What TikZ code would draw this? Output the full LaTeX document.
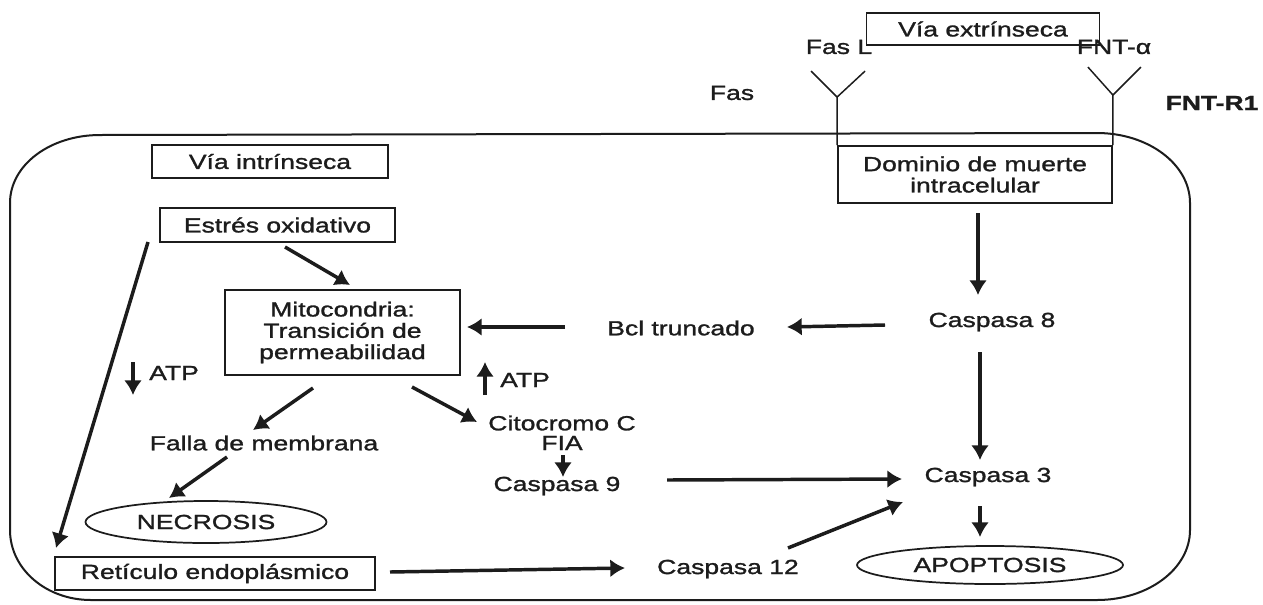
\documentclass[tikz,border=0pt]{standalone}
\usepackage{fontspec}
\setmainfont{Liberation Sans}[FakeStretch=1.3,FakeBold=1.3]
\usetikzlibrary{arrows.meta,calc,shapes.geometric}
\definecolor{ink}{HTML}{1C1C1C}
\tikzset{
  lbl/.style={inner sep=0pt, text=ink, font=\fontsize{15.3}{16}\selectfont, align=center},
  boxn/.style={lbl, draw=ink, line width=1.4pt},
  ell/.style={lbl, draw=ink, line width=1.3pt, ellipse},
  arr/.style={draw=ink, line width=2.6pt, -{Latex[length=11pt,width=13.5pt]}},
  yline/.style={draw=ink, line width=1.1pt},
  cell/.style={draw=ink, line width=1.5pt}
}
\begin{document}
\begin{tikzpicture}[x=0.75pt,y=-0.75pt]
\useasboundingbox (0,0) rectangle (1263,604);
\fill[white] (0,0) rectangle (1263,604);
% cell membrane
\draw[cell] (100,135) -- (1097,133)
  .. controls (1148,133) and (1190,164) .. (1190,203)
  -- (1190,530)
  .. controls (1190,569) and (1148,600) .. (1097,600)
  -- (91,600)
  .. controls (46,600) and (10,569) .. (10,530)
  -- (10,203)
  .. controls (10,165) and (50,135) .. (100,135);
% nodes
\node[boxn, minimum width={233*0.75pt}, minimum height={32*0.75pt}] (vext) at (983,29) {Vía extrínseca};
\node[lbl] (fasL) at (839,47) {Fas L};
\node[lbl] (fnta) at (1114,47) {FNT-α};
\node[lbl, font=\fontsize{15.3}{16}\selectfont\bfseries] (fntr) at (1212,103) {FNT-R1};
\node[lbl] (fas) at (732,93) {Fas};
\node[boxn, minimum width={274*0.75pt}, minimum height={57*0.75pt}] (dom) at (975,174.5) {Dominio de muerte\\intracelular};
\node[lbl] (casp8) at (992,322) {Caspasa 8};
\node[lbl] (bcl) at (681,328) {Bcl truncado};
\node[boxn, minimum width={235*0.75pt}, minimum height={85*0.75pt}] (mito) at (342.5,332.5) {Mitocondria:\\Transición de\\permeabilidad};
\node[boxn, minimum width={236*0.75pt}, minimum height={33*0.75pt}] (vint) at (270,161.5) {Vía intrínseca};
\node[boxn, minimum width={235*0.75pt}, minimum height={34*0.75pt}] (estres) at (277.5,225) {Estrés oxidativo};
\node[lbl] (atpR) at (525,380) {ATP};
\node[lbl] (atpL) at (174,373) {ATP};
\node[lbl] (cito) at (562,423) {Citocromo C};
\node[lbl] (fia) at (562,443) {FIA};
\node[lbl] (casp9) at (557,486) {Caspasa 9};
\node[lbl] (casp3) at (988,477) {Caspasa 3};
\node[ell, minimum width={266*0.75pt}, minimum height={38*0.75pt}] (apop) at (990,565) {APOPTOSIS};
\node[lbl] (casp12) at (728,569) {Caspasa 12};
\node[boxn, minimum width={320*0.75pt}, minimum height={33*0.75pt}] (ret) at (215,573.5) {Retículo endoplásmico};
\node[lbl] (falla) at (264,443) {Falla de membrana};
\node[ell, minimum width={241*0.75pt}, minimum height={42*0.75pt}] (necro) at (206,522) {NECROSIS};
% receptors
\draw[yline] (dom.north west) -- ++(0,-48) coordinate (j1) -- ++(-26,-26);
\draw[yline] (j1) -- ++(28,-26);
\draw[yline] (dom.north east) -- ++(0,-50) coordinate (j2) -- ++(-25,-28);
\draw[yline] (j2) -- ++(28,-28);
% arrows
\draw[arr] ($(dom)+(3,38.5)$) -- ($(casp8)+(-14,-27)$);
\draw[arr] ($(casp8)+(-107,3)$) -- ($(bcl)+(106,-1)$);
\draw[arr] ($(bcl)+(-116,-1)$) -- ($(mito)+(124.5,-5.5)$);
\draw[arr] ($(estres)+(7.5,22)$) -- ($(mito)+(7.5,-47.5)$);
\draw[arr] ($(estres)+(-129.5,17)$) -- ($(ret)+(-159,-25.5)$);
\draw[arr] ($(atpR)+(-40,15)$) -- ($(atpR)+(-40,-18)$);
\draw[arr] ($(atpL)+(-41,-11)$) -- ($(atpL)+(-41,22)$);
\draw[arr] ($(mito)+(69.5,54.5)$) -- ($(cito)+(-85,-1)$);
\draw[arr] ($(fia)+(1,12)$) -- ($(casp9)+(6,-9)$);
\draw[arr] ($(casp9)+(110,-6)$) -- ($(casp3)+(-86,2)$);
\draw[arr] ($(casp8)+(-12,30)$) -- ($(casp3)+(-8,-17)$);
\draw[arr] ($(casp3)+(-8,29)$) -- ($(apop)+(-10,-28)$);
\draw[arr] ($(casp12)+(60,-21)$) -- ($(casp3)+(-85,25)$);
\draw[arr] ($(ret)+(175,-1.5)$) -- ($(casp12)+(-103,-1)$);
\draw[arr] ($(mito)+(-29.5,55.5)$) -- ($(falla)+(-11,-13)$);
\draw[arr] ($(falla)+(-37,14)$) -- ($(necro)+(-37,-24)$);
\end{tikzpicture}
\end{document}
